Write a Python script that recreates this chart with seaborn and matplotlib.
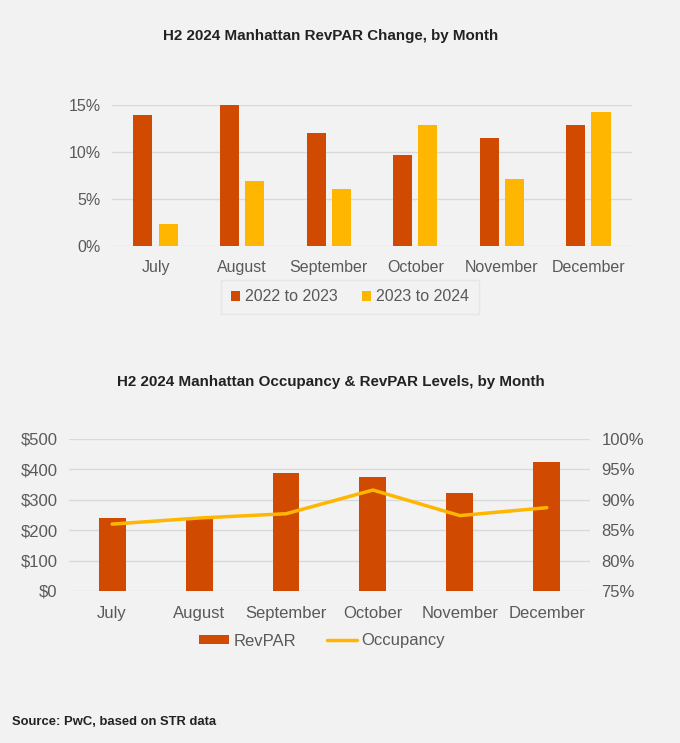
import numpy as np
import pandas as pd
import matplotlib
matplotlib.use("Agg")
import matplotlib.pyplot as plt
import seaborn as sns
from matplotlib.ticker import FuncFormatter
from matplotlib.lines import Line2D
from matplotlib.patches import Patch

months = ["July", "August", "September", "October", "November", "December"]
chg_22_23 = [13.9, 15.0, 12.0, 9.7, 11.5, 12.8]
chg_23_24 = [2.3, 6.9, 6.1, 12.9, 7.1, 14.2]
revpar = [241, 239, 389, 375, 322, 423]
occupancy = [86.0, 87.0, 87.7, 91.6, 87.4, 88.7]
series_names = ["2022 to 2023", "2023 to 2024"]

RED = "#d04a02"
YEL = "#ffb600"
BG = "#f2f2f2"
GRID = "#d9d9d9"
TXT = "#595959"
TITLE = "#222222"

sns.set_theme(style="white")
plt.rcParams["font.family"] = ["Liberation Sans", "DejaVu Sans"]

fig = plt.figure(figsize=(6.8, 7.43), dpi=100, facecolor=BG)

# ---- Top chart ----
df1 = pd.DataFrame({
    "month": months * 2,
    "value": chg_22_23 + chg_23_24,
    "series": [series_names[0]] * 6 + [series_names[1]] * 6,
})
ax1 = fig.add_axes([0.165, 0.669, 0.764, 0.19], facecolor=BG)
sns.barplot(data=df1, x="month", y="value", hue="series", order=months,
            hue_order=series_names, palette=[RED, YEL], width=0.58, gap=0.24,
            saturation=1, ax=ax1, legend=False, zorder=3, linewidth=0)
ax1.set_ylim(0, 15)
ax1.set_yticks([0, 5, 10, 15])
ax1.yaxis.set_major_formatter(FuncFormatter(lambda v, p: f"{int(v)}%"))
ax1.grid(axis="y", color=GRID, linewidth=1, zorder=0)
ax1.set_axisbelow(True)
for s in ax1.spines.values():
    s.set_visible(False)
ax1.set_xlabel("")
ax1.set_ylabel("")
ax1.tick_params(axis="both", length=0, labelsize=11.5, colors=TXT)
ax1.tick_params(axis="x", pad=10)
ax1.tick_params(axis="y", pad=8)
ax1.set_xlim(-0.5, 5.5)
handles1 = [Patch(facecolor=RED, edgecolor="none"), Patch(facecolor=YEL, edgecolor="none")]
leg1 = fig.legend(handles1, series_names, loc="center", bbox_to_anchor=(350 / 680, 1 - 297 / 743),
                  ncol=2, frameon=True, fontsize=11.5, handlelength=0.6, handleheight=0.6,
                  handletextpad=0.3, columnspacing=1.5, borderpad=0.3)
leg1.get_frame().set_facecolor(BG)
leg1.get_frame().set_edgecolor("#e4e4e4")
leg1.get_frame().set_boxstyle("square")
for t in leg1.get_texts():
    t.set_color(TXT)
fig.text(330.5 / 680, 1 - 36 / 743, "H2 2024 Manhattan RevPAR Change, by Month",
         ha="center", va="center", fontsize=10.9, fontweight="bold", color=TITLE)

# ---- Bottom chart ----
df2 = pd.DataFrame({"month": months, "revpar": revpar, "occupancy": occupancy})
ax2 = fig.add_axes([0.101, 0.2046, 0.767, 0.2046], facecolor=BG)
sns.barplot(data=df2, x="month", y="revpar", order=months, color=RED, width=0.31,
            saturation=1, ax=ax2, zorder=3, linewidth=0)
ax2.set_ylim(0, 500)
ax2.set_yticks(range(0, 501, 100))
ax2.yaxis.set_major_formatter(FuncFormatter(lambda v, p: f"${int(v)}"))
ax2.grid(axis="y", color=GRID, linewidth=1, zorder=0)
ax2.set_axisbelow(True)
for s in ax2.spines.values():
    s.set_visible(False)
ax2.set_xlabel("")
ax2.set_ylabel("")
ax2.tick_params(axis="both", length=0, labelsize=12, colors=TXT)
ax2.tick_params(axis="x", pad=11)
ax2.tick_params(axis="y", pad=8)
ax2.set_xlim(-0.5, 5.5)

ax3 = ax2.twinx()
sns.lineplot(x=np.arange(len(months)), y=occupancy, color=YEL, linewidth=2.5, ax=ax3, zorder=4)
ax3.set_ylim(75, 100)
ax3.set_yticks(range(75, 101, 5))
ax3.yaxis.set_major_formatter(FuncFormatter(lambda v, p: f"{int(v)}%"))
for s in ax3.spines.values():
    s.set_visible(False)
ax3.set_ylabel("")
ax3.tick_params(axis="y", length=0, labelsize=12, colors=TXT, pad=8)
ax3.grid(False)
ax2.set_xlim(-0.5, 5.5)

handles2 = [Patch(facecolor=RED, edgecolor="none"), Line2D([], [], color=YEL, linewidth=2.5)]
leg2 = fig.legend(handles2, ["RevPAR", "Occupancy"], loc="center",
                  bbox_to_anchor=(322 / 680, 1 - 641 / 743), ncol=2, frameon=False,
                  fontsize=12, handlelength=1.8, handleheight=0.5, handletextpad=0.25,
                  columnspacing=1.85)
for t in leg2.get_texts():
    t.set_color(TXT)
fig.text(331 / 680, 1 - 382 / 743, "H2 2024 Manhattan Occupancy & RevPAR Levels, by Month",
         ha="center", va="center", fontsize=10.9, fontweight="bold", color=TITLE)

fig.text(12 / 680, 1 - 722 / 743, "Source: PwC, based on STR data", ha="left", va="center",
         fontsize=9.4, fontweight="bold", color=TITLE)

fig.savefig("out.png", dpi=100, facecolor=BG)
